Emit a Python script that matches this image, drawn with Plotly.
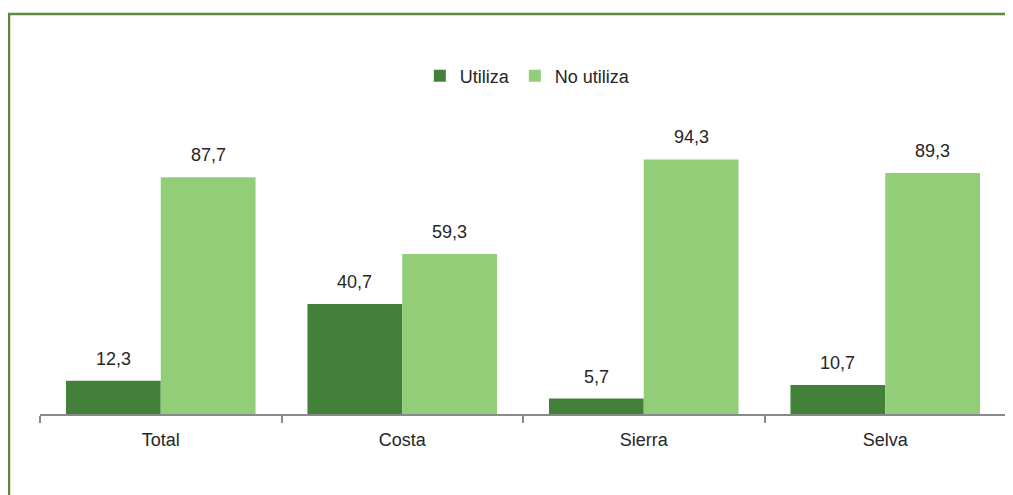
import plotly.graph_objects as go

regiones = ["Total", "Costa", "Sierra", "Selva"]
utiliza = [12.3, 40.7, 5.7, 10.7]
no_utiliza = [87.7, 59.3, 94.3, 89.3]

fuente = "Liberation Sans Narrow, Arial Narrow, Liberation Sans, Arial"
texto = "#262626"

def etiqueta(v):
    return f"{v:.1f}".replace(".", ",")

fig = go.Figure()
fig.add_trace(go.Bar(x=regiones, y=utiliza, name="Utiliza",
                     marker=dict(color="#43803a", line=dict(width=0))))
fig.add_trace(go.Bar(x=regiones, y=no_utiliza, name="No utiliza",
                     marker=dict(color="#92cd78", line=dict(width=0))))

# etiquetas de datos sobre cada barra
anotaciones = []
for serie, desplaz in ((utiliza, -47.4), (no_utiliza, 47.4)):
    for reg, v in zip(regiones, serie):
        anotaciones.append(dict(x=reg, y=v, xref="x", yref="y", text=etiqueta(v),
                                showarrow=False, yanchor="bottom", xshift=desplaz,
                                yshift=10, font=dict(size=18, color=texto)))

fig.update_layout(
    width=1005, height=487,
    margin=dict(l=32, r=7, t=136, b=81),
    paper_bgcolor="white", plot_bgcolor="white",
    barmode="group", bargap=0.215, bargroupgap=0,
    font=dict(family=fuente, size=18, color=texto),
    legend=dict(orientation="h", x=0.505, xanchor="center", y=1.252, yanchor="middle",
                font=dict(size=18), itemwidth=30, traceorder="normal"),
    xaxis=dict(showline=True, linecolor="#898989", linewidth=2,
               ticks="outside", tickson="boundaries", ticklen=7, tickcolor="#898989",
               tickwidth=2, tickfont=dict(size=18), ticklabelstandoff=8),
    yaxis=dict(range=[0, 100], visible=False),
    annotations=anotaciones,
    shapes=[dict(type="rect", xref="paper", yref="paper",
                 x0=-0.0321, x1=1.2, y0=-1, y1=1.4815,
                 line=dict(color="#5b8a3c", width=2.5))],
)

fig.write_html("out.html")
